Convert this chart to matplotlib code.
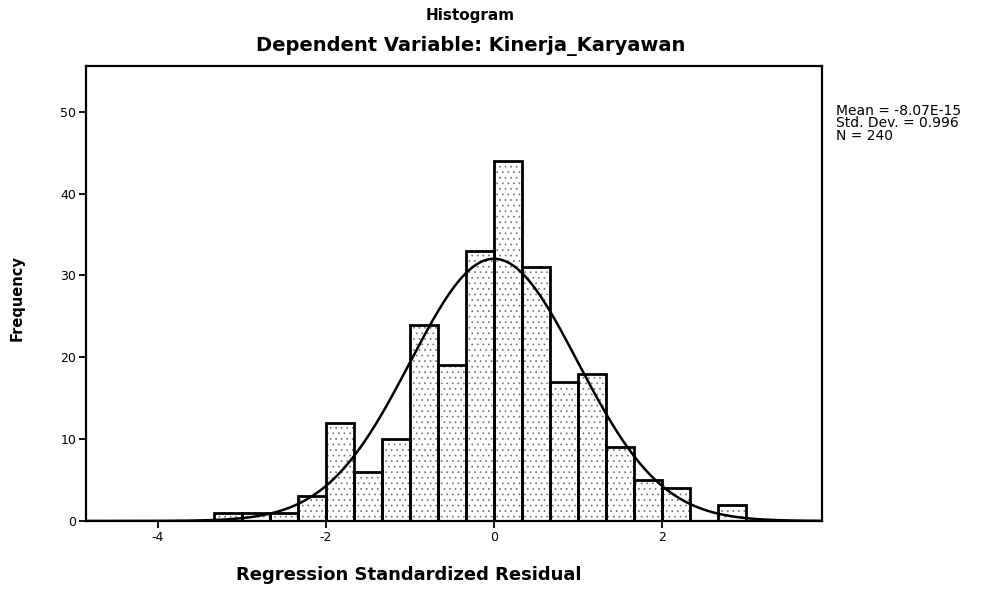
import matplotlib

matplotlib.use("Agg")
import matplotlib.pyplot as plt
import numpy as np

# histogram of regression standardized residuals, bins of width 1/3
bin_start = -10 / 3
bin_width = 1 / 3
counts = [1, 1, 1, 3, 12, 6, 10, 24, 19, 33, 44, 31, 17, 18, 9, 5, 4, 0, 2]
mean = -8.07e-15
std_dev = 0.996
n_obs = 240

x_ticks = [-4, -2, 0, 2]
y_ticks = [0, 10, 20, 30, 40, 50]
stats_text = "Mean = -8.07E-15\nStd. Dev. = 0.996\nN = 240"

plt.rcParams["font.family"] = ["DejaVu Sans"]
plt.rcParams["axes.unicode_minus"] = False
plt.rcParams["hatch.linewidth"] = 0.5

fig = plt.figure(figsize=(9.92, 5.95), dpi=100)
ax = fig.add_axes((0.0867, 0.1244, 0.742, 0.7647))

edges = bin_start + bin_width * np.arange(len(counts))
ax.bar(edges, counts, width=bin_width, align="edge", facecolor="white",
       edgecolor="#707070", hatch="...", linewidth=0, zorder=2)
ax.bar(edges, counts, width=bin_width, align="edge", facecolor="none",
       edgecolor="black", linewidth=2.0, zorder=3)

xs = np.linspace(-4.85, 3.9, 400)
pdf = np.exp(-0.5 * ((xs - mean) / std_dev) ** 2) / (std_dev * np.sqrt(2 * np.pi))
ax.plot(xs, n_obs * bin_width * pdf, color="black", linewidth=1.8, zorder=4)

ax.set_xlim(-4.85, 3.9)
ax.set_ylim(0, 55.6)
ax.set_xticks(x_ticks)
ax.set_yticks(y_ticks)
ax.tick_params(direction="out", length=5, width=1.3, labelsize=9, pad=2)
for spine in ax.spines.values():
    spine.set_linewidth(1.6)

ax.set_xlabel("Regression Standardized Residual", fontsize=13, fontweight="bold")
ax.xaxis.set_label_coords(0.438, -0.1)
ax.set_ylabel("Frequency", fontsize=10.5, fontweight="bold")
ax.yaxis.set_label_coords(-0.084, 0.49)

fig.text(0.474, 0.987, "Histogram", ha="center", va="top", fontsize=11, fontweight="bold")
fig.text(0.474, 0.94, "Dependent Variable: Kinerja_Karyawan", ha="center", va="top",
         fontsize=14, fontweight="bold")
fig.text(0.843, 0.825, stats_text, ha="left", va="top", fontsize=10, linespacing=0.85)

fig.savefig("out.png", dpi=100)
